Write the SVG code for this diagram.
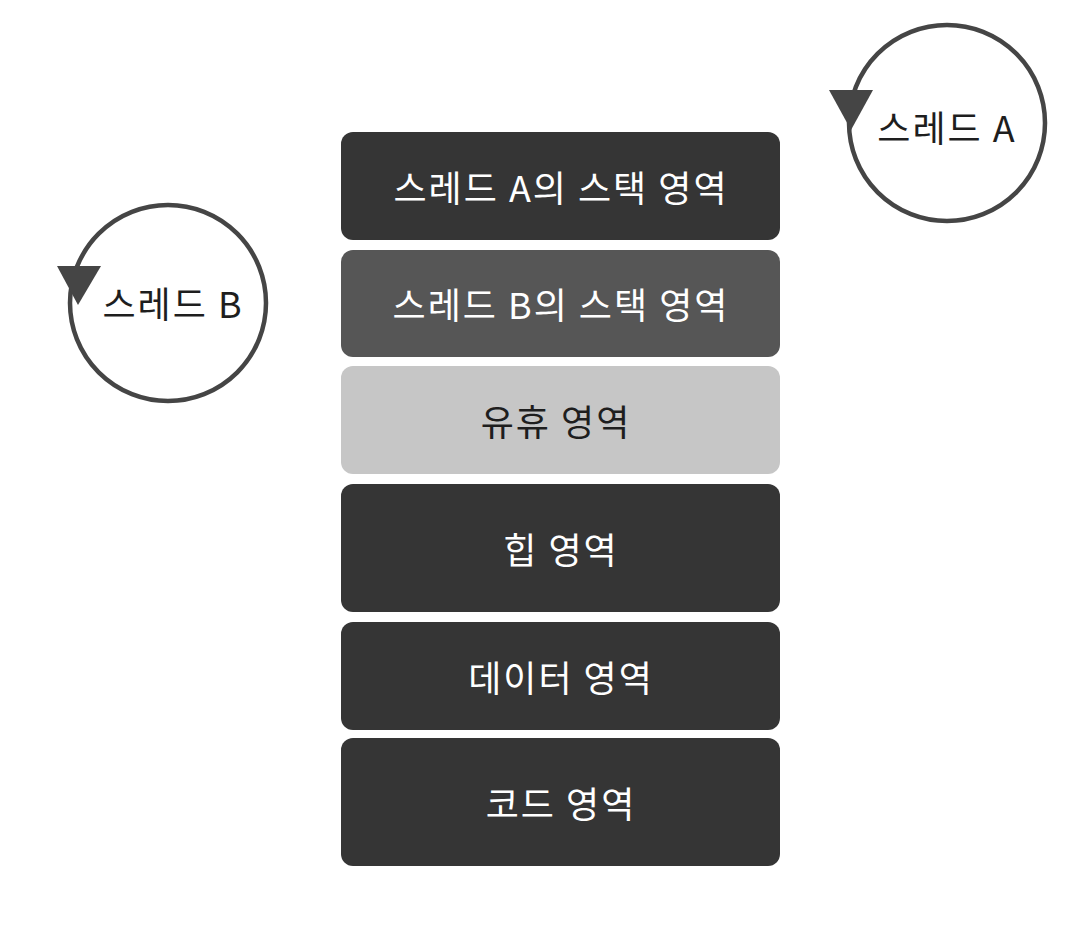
<svg xmlns="http://www.w3.org/2000/svg" width="1088" height="938" viewBox="0 0 1088 938">
<style>
.box{stroke:none}
.dark{fill:#353535}
.mid{fill:#565656}
.light{fill:#c6c6c6}
.lbl{font-family:"Noto Sans CJK KR","Liberation Sans",sans-serif;font-size:36px;letter-spacing:2px;text-anchor:middle;dominant-baseline:central}
.w{fill:#ffffff}
.k{fill:#1e1e1e}
.ring{fill:none;stroke:#454545;stroke-width:4.5}
.head{fill:#454545}
</style>
<rect width="1088" height="938" fill="#ffffff"/>
<g id="stackA"><rect class="box dark" x="341" y="132" width="439" height="108" rx="12"/><text class="lbl w" x="561" y="186">스레드 A의 스택 영역</text></g>
<g id="stackB"><rect class="box mid" x="341" y="250" width="439" height="107" rx="12"/><text class="lbl w" x="561" y="303">스레드 B의 스택 영역</text></g>
<g id="idle"><rect class="box light" x="341" y="366" width="439" height="108" rx="12"/><text class="lbl k" x="556" y="420">유휴 영역</text></g>
<g id="heap"><rect class="box dark" x="341" y="484" width="439" height="128" rx="12"/><text class="lbl w" x="561" y="548">힙 영역</text></g>
<g id="data"><rect class="box dark" x="341" y="622" width="439" height="108" rx="12"/><text class="lbl w" x="561" y="676">데이터 영역</text></g>
<g id="code"><rect class="box dark" x="341" y="738" width="439" height="128" rx="12"/><text class="lbl w" x="561" y="802">코드 영역</text></g>
<g id="threadA"><circle class="ring" cx="947" cy="123" r="98"/><text class="lbl k" x="947" y="126">스레드 A</text></g>
<g id="threadB"><circle class="ring" cx="168" cy="303" r="98"/><text class="lbl k" x="173" y="302">스레드 B</text></g>
<g id="connectors">
<polygon class="head" points="829,90 873,90 851,130"/>
<polygon class="head" points="57,266 101,266 78,305"/>
</g>
</svg>
